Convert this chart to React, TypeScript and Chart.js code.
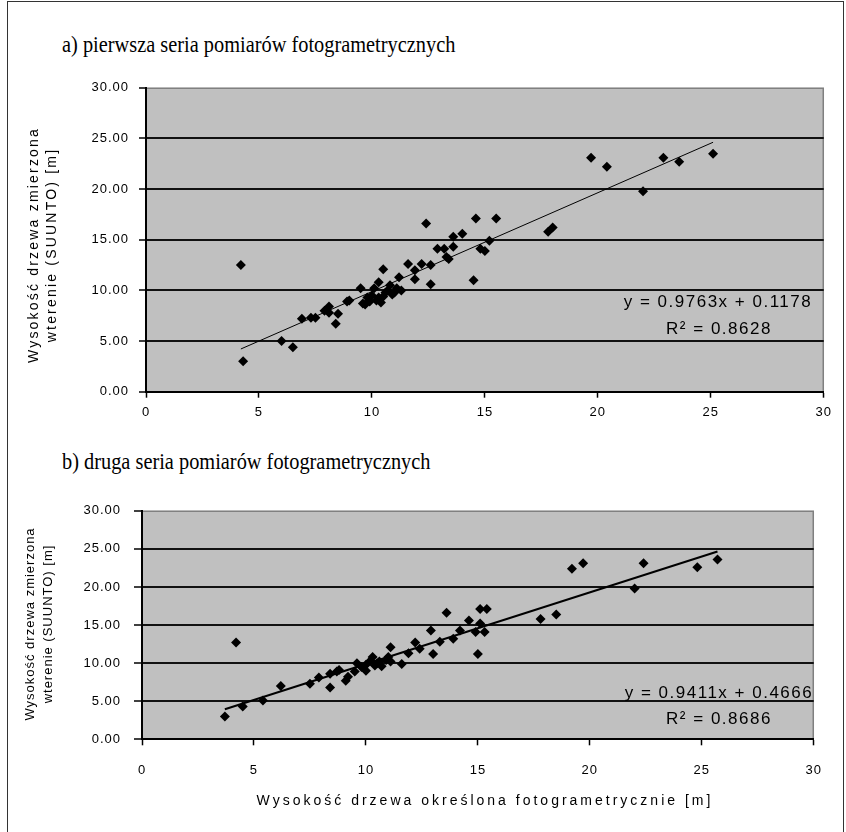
import React, { useEffect, useRef } from 'react';
import { Chart, registerables } from 'chart.js';

Chart.register(...registerables);

// ---- data ----
const xTickValues = [0, 5, 10, 15, 20, 25, 30];
const yTickValues = [0, 5, 10, 15, 20, 25, 30];

// a) first series of photogrammetric measurements
const seriesAx = [4.2, 4.3, 6.0, 6.5, 6.9, 7.3, 7.5, 7.9, 8.1, 8.1, 8.4, 8.5, 8.9, 9.0, 9.5, 9.6, 9.7, 9.8, 9.9, 10.0, 10.1, 10.2, 10.3, 10.3, 10.4, 10.5, 10.5, 10.6, 10.7, 10.8, 10.9, 11.0, 11.1, 11.2, 11.3, 11.6, 11.9, 11.9, 12.2, 12.4, 12.6, 12.6, 12.9, 13.2, 13.3, 13.4, 13.6, 13.6, 14.0, 14.5, 14.6, 14.8, 15.0, 15.2, 15.5, 17.8, 18.0, 19.7, 20.4, 22.0, 22.9, 23.6, 25.1];
const seriesAy = [12.5, 3.0, 5.0, 4.4, 7.2, 7.3, 7.3, 8.0, 8.4, 7.8, 6.7, 7.7, 8.9, 9.0, 10.2, 8.7, 8.6, 9.3, 8.9, 9.5, 10.2, 9.0, 9.3, 10.8, 8.8, 9.4, 12.1, 9.8, 10.0, 10.5, 9.6, 9.8, 10.2, 11.3, 10.0, 12.6, 11.1, 12.0, 12.6, 16.6, 12.5, 10.6, 14.1, 14.1, 13.3, 13.1, 14.3, 15.3, 15.6, 11.0, 17.1, 14.1, 13.9, 14.9, 17.1, 15.8, 16.2, 23.1, 22.2, 19.8, 23.1, 22.7, 23.5];
const trendA = { slope: 0.9763, intercept: 0.1178 };
const equationA = 'y = 0.9763x + 0.1178';
const rSquaredA = '0.8628';

// b) second series of photogrammetric measurements
const seriesBx = [3.7, 4.2, 4.5, 5.4, 6.2, 7.5, 7.9, 8.4, 8.4, 8.7, 8.8, 9.1, 9.2, 9.5, 9.6, 9.8, 10.0, 10.0, 10.2, 10.3, 10.4, 10.5, 10.6, 10.7, 10.9, 11.0, 11.1, 11.1, 11.6, 11.9, 12.2, 12.4, 12.9, 13.0, 13.3, 13.6, 13.9, 14.2, 14.6, 14.9, 15.0, 15.1, 15.1, 15.3, 15.4, 17.8, 18.5, 19.2, 19.7, 22.0, 22.4, 24.8, 25.7];
const seriesBy = [3.0, 12.7, 4.3, 5.1, 7.0, 7.3, 8.1, 6.8, 8.6, 8.9, 9.1, 7.7, 8.2, 8.9, 10.0, 9.5, 9.0, 9.8, 10.3, 10.8, 9.7, 10.0, 10.2, 9.6, 10.4, 10.8, 12.1, 10.2, 9.9, 11.3, 12.7, 11.9, 14.3, 11.2, 12.8, 16.6, 13.2, 14.3, 15.6, 14.1, 11.2, 15.2, 17.1, 14.1, 17.1, 15.8, 16.4, 22.4, 23.1, 19.8, 23.1, 22.6, 23.6];
const trendB = { slope: 0.9411, intercept: 0.4666 };
const equationB = 'y = 0.9411x + 0.4666';
const rSquaredB = '0.8686';

const titleA = 'a) pierwsza seria pomiarów fotogrametrycznych';
const titleB = 'b) druga seria pomiarów fotogrametrycznych';
const yTitleLines = ['Wysokość drzewa zmierzona', 'wterenie (SUUNTO) [m]'];
const xTitleB = 'Wysokość drzewa określona fotogrametrycznie [m]';

const SANS = "'Liberation Sans', Arial, sans-serif";
const SERIF = "'Liberation Serif', 'Times New Roman', serif";

type PanelProps = {
  xs: number[];
  ys: number[];
  slope: number;
  intercept: number;
  left: number;
  top: number;
  width: number;
  height: number;
  yAxisWidth: number;
  xAxisHeight: number;
  padTop: number;
  padRight: number;
  trendWidth: number;
  tickFont: number;
  tickSpacing: string;
  xLabelPad: number;
  yLabelPad: number;
  yTickLen: number;
};

function Panel(p: PanelProps) {
  const ref = useRef<HTMLCanvasElement>(null);
  useEffect(() => {
    if (!ref.current) return;
    const points = p.xs.map((x, i) => ({ x, y: p.ys[i] }));
    const x0 = Math.min(...p.xs);
    const x1 = Math.max(...p.xs);
    const trend = [x0, x1].map((x) => ({ x, y: p.slope * x + p.intercept }));
    const bg = {
      id: 'plotBg',
      beforeDraw(chart: any) {
        const { ctx, chartArea: a } = chart;
        ctx.save();
        ctx.fillStyle = '#c0c0c0';
        ctx.fillRect(a.left, a.top, a.right - a.left, a.bottom - a.top);
        ctx.strokeStyle = '#808080';
        ctx.lineWidth = 1.5;
        ctx.beginPath();
        ctx.moveTo(a.left, a.top + 0.5);
        ctx.lineTo(a.right - 0.5, a.top + 0.5);
        ctx.lineTo(a.right - 0.5, a.bottom);
        ctx.stroke();
        ctx.restore();
        (ctx as any).letterSpacing = p.tickSpacing;
      },
    };
    const chart = new Chart(ref.current, {
      type: 'scatter',
      data: {
        datasets: [
          {
            data: trend,
            showLine: true,
            borderColor: '#000',
            borderWidth: p.trendWidth,
            pointRadius: 0,
            fill: false,
          } as any,
          {
            data: points,
            pointStyle: 'rectRot',
            pointRadius: 5,
            backgroundColor: '#000',
            borderColor: '#000',
            borderWidth: 0,
          } as any,
        ],
      },
      options: {
        animation: false,
        responsive: false,
        maintainAspectRatio: false,
        events: [],
        layout: { padding: { top: p.padTop, right: p.padRight, left: 0, bottom: 0 } },
        plugins: { legend: { display: false }, tooltip: { enabled: false }, title: { display: false } },
        scales: {
          x: {
            type: 'linear',
            min: 0,
            max: 30,
            afterBuildTicks: (s: any) => {
              s.ticks = xTickValues.map((v) => ({ value: v }));
            },
            afterFit: (s: any) => {
              s.height = p.xAxisHeight;
            },
            ticks: {
              color: '#000',
              font: { family: SANS, size: p.tickFont },
              padding: p.xLabelPad,
              maxRotation: 0,
              callback: (v: any) => String(v),
            },
            grid: { drawOnChartArea: false, drawTicks: true, tickLength: 6, tickColor: '#000', tickWidth: 1.5 },
            border: { display: true, color: '#000', width: 2 },
          },
          y: {
            type: 'linear',
            min: 0,
            max: 30,
            afterBuildTicks: (s: any) => {
              s.ticks = yTickValues.map((v) => ({ value: v }));
            },
            afterFit: (s: any) => {
              s.width = p.yAxisWidth;
            },
            ticks: {
              color: '#000',
              font: { family: SANS, size: p.tickFont },
              padding: p.yLabelPad,
              callback: (v: any) => Number(v).toFixed(2),
            },
            grid: {
              color: (c: any) => (c.tick && c.tick.value === 30 ? 'rgba(0,0,0,0)' : '#111'),
              lineWidth: 2,
              drawTicks: true,
              tickLength: p.yTickLen,
              tickColor: '#000',
              tickWidth: 1.5,
            },
            border: { display: true, color: '#000', width: 2 },
          },
        },
      } as any,
      plugins: [bg],
    });
    return () => chart.destroy();
  }, []);
  return (
    <canvas
      ref={ref}
      width={p.width}
      height={p.height}
      style={{ position: 'absolute', left: p.left, top: p.top, width: p.width, height: p.height }}
    />
  );
}

function VText(props: { cx: number; cy: number; lines: string[]; size: number; spacing: string; lineH: number }) {
  const W = 340;
  const H = props.lines.length * props.lineH;
  return (
    <div
      style={{
        position: 'absolute',
        left: props.cx - W / 2,
        top: props.cy - H / 2,
        width: W,
        height: H,
        transform: 'rotate(-90deg)',
        textAlign: 'center',
        fontFamily: SANS,
        fontSize: props.size,
        lineHeight: props.lineH + 'px',
        letterSpacing: props.spacing,
        whiteSpace: 'nowrap',
        color: '#000',
      }}
    >
      {props.lines.map((l) => (
        <div key={l}>{l}</div>
      ))}
    </div>
  );
}

function CText(props: { cx: number; cy: number; text: React.ReactNode; size: number; spacing: string }) {
  const W = 500;
  const H = props.size + 4;
  return (
    <div
      style={{
        position: 'absolute',
        left: props.cx - W / 2,
        top: props.cy - H / 2,
        width: W,
        height: H,
        lineHeight: H + 'px',
        textAlign: 'center',
        fontFamily: SANS,
        fontSize: props.size,
        letterSpacing: props.spacing,
        whiteSpace: 'nowrap',
        color: '#000',
      }}
    >
      {props.text}
    </div>
  );
}

function Heading(props: { left: number; top: number; text: string }) {
  return (
    <div
      style={{
        position: 'absolute',
        left: props.left,
        top: props.top,
        fontFamily: SERIF,
        fontSize: 23,
        color: '#000',
        whiteSpace: 'nowrap',
        transform: 'scaleX(0.885)',
        transformOrigin: 'left center',
      }}
    >
      {props.text}
    </div>
  );
}

export default function App() {
  return (
    <div style={{ position: 'absolute', left: 0, top: 0, width: 846, height: 832, background: '#fff', overflow: 'hidden' }}>
      <div
        style={{
          position: 'absolute',
          left: 7,
          top: 1,
          width: 835,
          height: 850,
          borderTop: '1px solid #333',
          borderLeft: '1px solid #333',
          borderRight: '1px solid #333',
        }}
      />
      <Heading left={62} top={32} text={titleA} />
      <Panel
        xs={seriesAx}
        ys={seriesAy}
        slope={trendA.slope}
        intercept={trendA.intercept}
        left={8}
        top={70}
        width={830}
        height={365}
        yAxisWidth={138}
        xAxisHeight={43.3}
        padTop={16.5}
        padRight={10}
        trendWidth={1}
        tickFont={13}
        tickSpacing="1px"
        xLabelPad={7}
        yLabelPad={10}
        yTickLen={7}
      />
      <VText cx={42} cy={245} lines={yTitleLines} size={14} spacing="2.2px" lineH={18} />
      <CText cx={718} cy={301} text={equationA} size={17} spacing="1.5px" />
      <CText cx={719} cy={328} text={'R² = ' + rSquaredA} size={17} spacing="1.5px" />

      <Heading left={62} top={449} text={titleB} />
      <Panel
        xs={seriesBx}
        ys={seriesBy}
        slope={trendB.slope}
        intercept={trendB.intercept}
        left={8}
        top={490}
        width={830}
        height={340}
        yAxisWidth={134}
        xAxisHeight={90.7}
        padTop={20}
        padRight={10}
        trendWidth={2}
        tickFont={13}
        tickSpacing="1px"
        xLabelPad={17}
        yLabelPad={13}
        yTickLen={8}
      />
      <VText cx={39} cy={624} lines={yTitleLines} size={13} spacing="1px" lineH={18} />
      <CText cx={485} cy={800} text={xTitleB} size={14} spacing="3px" />
      <CText cx={719} cy={692} text={equationB} size={17} spacing="1.5px" />
      <CText cx={719} cy={718} text={'R² = ' + rSquaredB} size={17} spacing="1.5px" />
    </div>
  );
}
